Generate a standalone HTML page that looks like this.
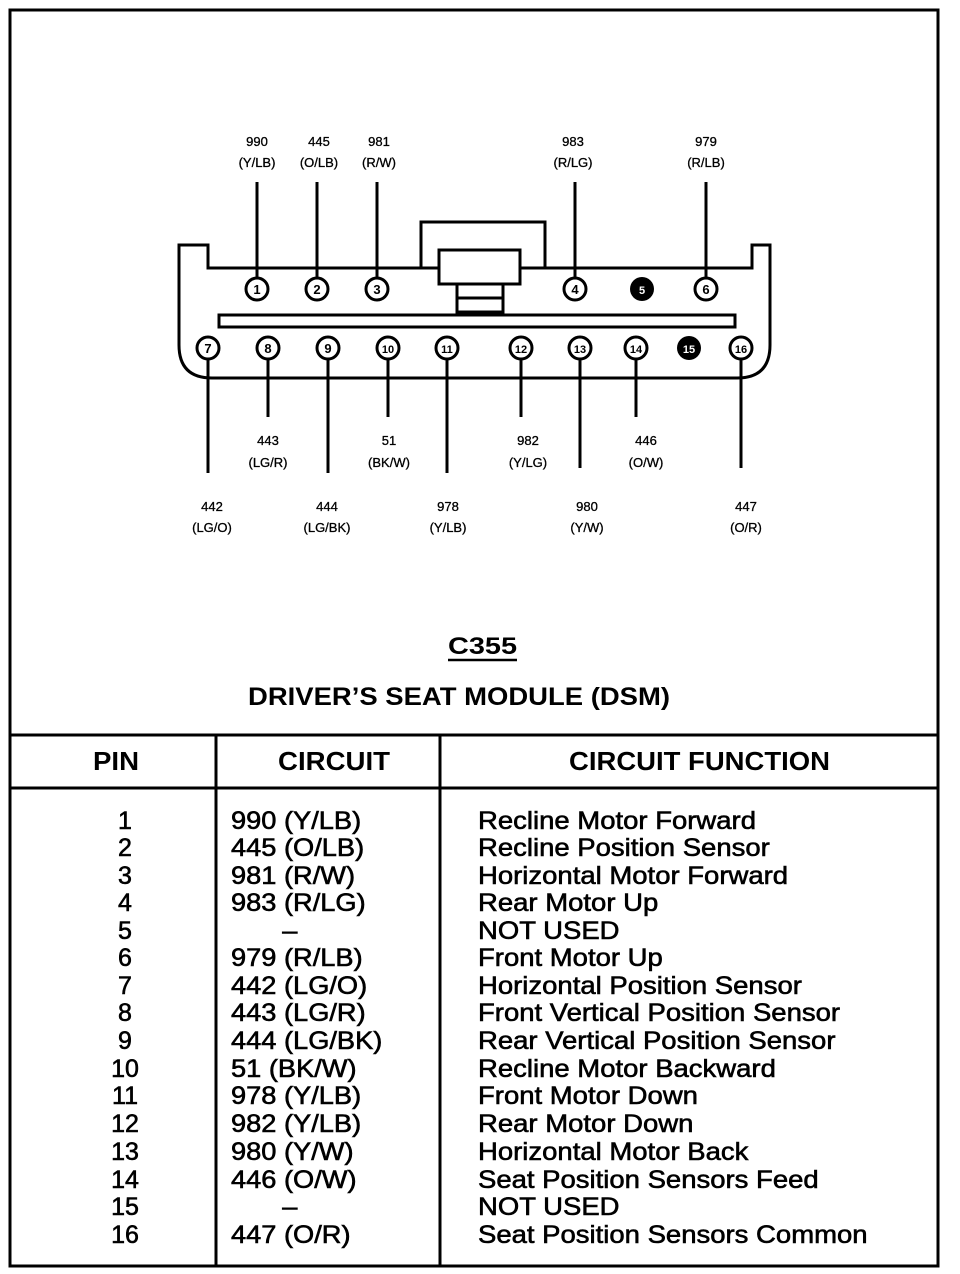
<!DOCTYPE html>
<html><head><meta charset="utf-8"><style>
html,body{margin:0;padding:0;background:#fff}
svg{display:block}
text{font-family:"Liberation Sans",sans-serif;fill:#000}
.s{font-size:13px;text-anchor:middle;stroke:#000;stroke-width:0.3}
.p{font-size:13px;font-weight:bold;text-anchor:middle}
.t{font-size:25px;stroke:#000;stroke-width:0.6}
.h{font-size:26px;font-weight:bold}
</style></head><body>
<svg width="960" height="1274" viewBox="0 0 960 1274" xmlns="http://www.w3.org/2000/svg">
<rect x="10" y="10" width="928" height="1256" fill="none" stroke="#000" stroke-width="3"/>
<rect x="421" y="222" width="124" height="46" fill="none" stroke="#000" stroke-width="3"/>
<path d="M179,245 L208,245 L208,268 L752,268 L752,245 L770,245 L770,345 Q770,378 737,378 L212,378 Q179,378 179,345 Z" fill="#fff" stroke="#000" stroke-width="3"/>
<rect x="439" y="250" width="81" height="34" fill="#fff" stroke="#000" stroke-width="3"/>
<rect x="457" y="284" width="46" height="28" fill="#fff" stroke="#000" stroke-width="3"/>
<line x1="457" y1="298" x2="503" y2="298" stroke="#000" stroke-width="3"/>
<rect x="219" y="315" width="516" height="12" fill="#fff" stroke="#000" stroke-width="3"/>
<g stroke="#000" stroke-width="3">
<line x1="257" y1="182" x2="257" y2="278"/>
<line x1="317" y1="182" x2="317" y2="278"/>
<line x1="377" y1="182" x2="377" y2="278"/>
<line x1="575" y1="182" x2="575" y2="278"/>
<line x1="706" y1="182" x2="706" y2="278"/>
<line x1="208" y1="358" x2="208" y2="473"/>
<line x1="268" y1="358" x2="268" y2="417"/>
<line x1="328" y1="358" x2="328" y2="473"/>
<line x1="388" y1="358" x2="388" y2="417"/>
<line x1="447" y1="358" x2="447" y2="473"/>
<line x1="521" y1="358" x2="521" y2="417"/>
<line x1="580" y1="358" x2="580" y2="468"/>
<line x1="636" y1="358" x2="636" y2="417"/>
<line x1="741" y1="358" x2="741" y2="468"/>
</g>
<g stroke="#000" stroke-width="3" fill="#fff">
<circle cx="257" cy="289" r="11"/><circle cx="317" cy="289" r="11"/><circle cx="377" cy="289" r="11"/>
<circle cx="575" cy="289" r="11"/><circle cx="706" cy="289" r="11"/>
<circle cx="208" cy="348" r="11"/><circle cx="268" cy="348" r="11"/><circle cx="328" cy="348" r="11"/>
<circle cx="388" cy="348" r="11"/><circle cx="447" cy="348" r="11"/><circle cx="521" cy="348" r="11"/>
<circle cx="580" cy="348" r="11"/><circle cx="636" cy="348" r="11"/><circle cx="741" cy="348" r="11"/>
</g>
<circle cx="642" cy="289" r="12" fill="#000"/><circle cx="689" cy="348" r="12" fill="#000"/>
<g class="p">
<text x="257" y="294">1</text><text x="317" y="294">2</text><text x="377" y="294">3</text>
<text x="575" y="294">4</text><text x="642" y="294" style="fill:#fff;font-size:11px">5</text><text x="706" y="294">6</text>
<text x="208" y="353">7</text><text x="268" y="353">8</text><text x="328" y="353">9</text>
<text x="388" y="353" style="font-size:11px">10</text><text x="447" y="353" style="font-size:11px">11</text><text x="521" y="353" style="font-size:11px">12</text>
<text x="580" y="353" style="font-size:11px">13</text><text x="636" y="353" style="font-size:11px">14</text>
<text x="689" y="353" style="fill:#fff;font-size:11px">15</text><text x="741" y="353" style="font-size:11px">16</text>
</g>
<g class="s">
<text x="257" y="146">990</text><text x="257" y="167">(Y/LB)</text>
<text x="319" y="146">445</text><text x="319" y="167">(O/LB)</text>
<text x="379" y="146">981</text><text x="379" y="167">(R/W)</text>
<text x="573" y="146">983</text><text x="573" y="167">(R/LG)</text>
<text x="706" y="146">979</text><text x="706" y="167">(R/LB)</text>
<text x="268" y="445">443</text><text x="268" y="467">(LG/R)</text>
<text x="389" y="445">51</text><text x="389" y="467">(BK/W)</text>
<text x="528" y="445">982</text><text x="528" y="467">(Y/LG)</text>
<text x="646" y="445">446</text><text x="646" y="467">(O/W)</text>
<text x="212" y="511">442</text><text x="212" y="532">(LG/O)</text>
<text x="327" y="511">444</text><text x="327" y="532">(LG/BK)</text>
<text x="448" y="511">978</text><text x="448" y="532">(Y/LB)</text>
<text x="587" y="511">980</text><text x="587" y="532">(Y/W)</text>
<text x="746" y="511">447</text><text x="746" y="532">(O/R)</text>
</g>
<text x="448" y="654" class="h" style="font-size:24px" textLength="69" lengthAdjust="spacingAndGlyphs">C355</text>
<line x1="448" y1="660" x2="517" y2="660" stroke="#000" stroke-width="2.5"/>
<text x="248" y="705" class="h" style="font-size:25px" textLength="422" lengthAdjust="spacingAndGlyphs">DRIVER’S SEAT MODULE (DSM)</text>
<line x1="10" y1="735" x2="938" y2="735" stroke="#000" stroke-width="3"/>
<line x1="10" y1="788" x2="938" y2="788" stroke="#000" stroke-width="3"/>
<line x1="216" y1="735" x2="216" y2="1266" stroke="#000" stroke-width="3"/>
<line x1="440" y1="735" x2="440" y2="1266" stroke="#000" stroke-width="3"/>
<text x="93" y="770" class="h" textLength="46" lengthAdjust="spacingAndGlyphs">PIN</text>
<text x="278" y="770" class="h" textLength="112" lengthAdjust="spacingAndGlyphs">CIRCUIT</text>
<text x="569" y="770" class="h" textLength="261" lengthAdjust="spacingAndGlyphs">CIRCUIT FUNCTION</text>
<g class="t" text-anchor="middle">
<text x="125" y="829">1</text><text x="125" y="856">2</text><text x="125" y="884">3</text><text x="125" y="911">4</text>
<text x="125" y="939">5</text><text x="125" y="966">6</text><text x="125" y="994">7</text><text x="125" y="1021">8</text>
<text x="125" y="1049">9</text><text x="125" y="1077">10</text><text x="125" y="1104">11</text><text x="125" y="1132">12</text>
<text x="125" y="1160">13</text><text x="125" y="1188">14</text><text x="125" y="1215">15</text><text x="125" y="1243">16</text>
</g>
<g class="t" transform="translate(231,0) scale(1.09,1)">
<text x="0" y="829">990 (Y/LB)</text>
<text x="0" y="856">445 (O/LB)</text>
<text x="0" y="884">981 (R/W)</text>
<text x="0" y="911">983 (R/LG)</text>
<text x="54" y="939" text-anchor="middle">–</text>
<text x="0" y="966">979 (R/LB)</text>
<text x="0" y="994">442 (LG/O)</text>
<text x="0" y="1021">443 (LG/R)</text>
<text x="0" y="1049">444 (LG/BK)</text>
<text x="0" y="1077">51 (BK/W)</text>
<text x="0" y="1104">978 (Y/LB)</text>
<text x="0" y="1132">982 (Y/LB)</text>
<text x="0" y="1160">980 (Y/W)</text>
<text x="0" y="1188">446 (O/W)</text>
<text x="54" y="1215" text-anchor="middle">–</text>
<text x="0" y="1243">447 (O/R)</text>
</g>
<g class="t" transform="translate(478,0) scale(1.1,1)">
<text x="0" y="829">Recline Motor Forward</text>
<text x="0" y="856">Recline Position Sensor</text>
<text x="0" y="884">Horizontal Motor Forward</text>
<text x="0" y="911">Rear Motor Up</text>
<text x="0" y="939">NOT USED</text>
<text x="0" y="966">Front Motor Up</text>
<text x="0" y="994">Horizontal Position Sensor</text>
<text x="0" y="1021">Front Vertical Position Sensor</text>
<text x="0" y="1049">Rear Vertical Position Sensor</text>
<text x="0" y="1077">Recline Motor Backward</text>
<text x="0" y="1104">Front Motor Down</text>
<text x="0" y="1132">Rear Motor Down</text>
<text x="0" y="1160">Horizontal Motor Back</text>
<text x="0" y="1188">Seat Position Sensors Feed</text>
<text x="0" y="1215">NOT USED</text>
<text x="0" y="1243">Seat Position Sensors Common</text>
</g>
</svg>
</body></html>
